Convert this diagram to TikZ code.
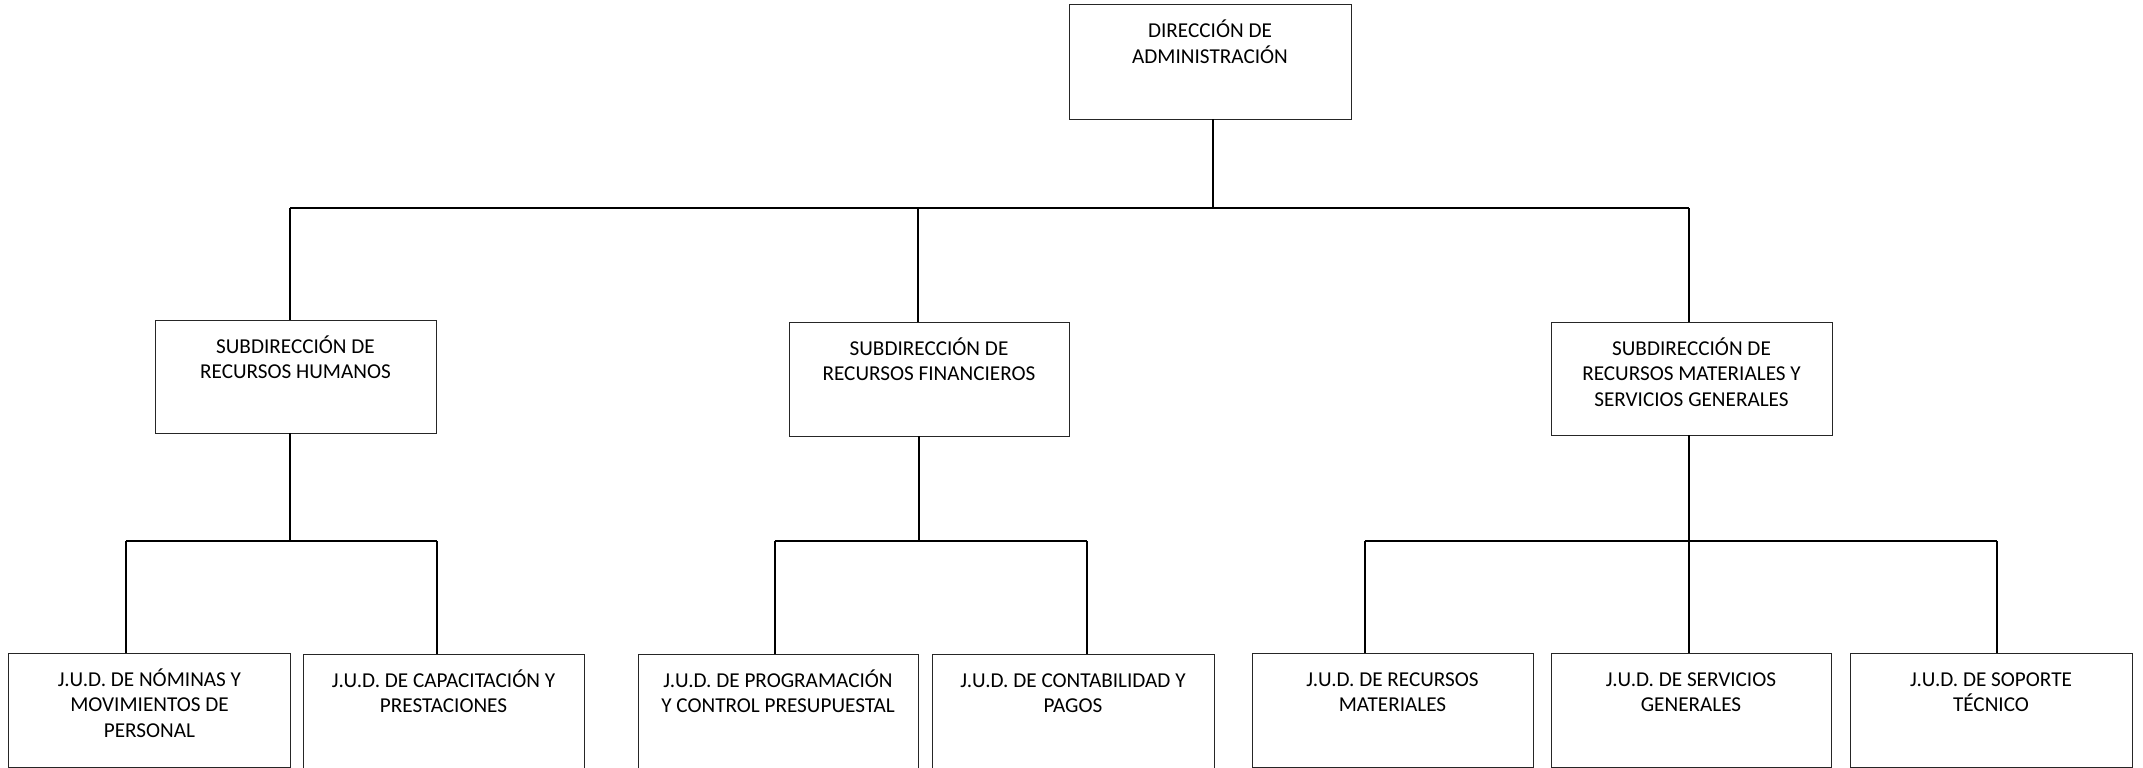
\documentclass[tikz,border=0pt]{standalone}
\usepackage{fontspec}
\setmainfont{Carlito}
\newcommand{\orgtext}[3]{\parbox[t][#2][t]{#1}{\centering\rule{0pt}{33bp}#3\par}}
\tikzset{
  orgbox/.style={draw=black!85, line width=1bp, inner sep=0pt, outer sep=0pt,
    font=\fontsize{21.2bp}{25.8bp}\selectfont},
  link/.style={line width=2bp, black}
}
\begin{document}
\begin{tikzpicture}[x=1bp,y=-1bp]
\useasboundingbox (0,0) rectangle (2143,768);
% top
\node[orgbox] (dir) at (1210,62) {\orgtext{282bp}{114bp}{DIRECCIÓN DE\\ADMINISTRACIÓN}};
% second level
\node[orgbox] (rh) at (295.5,376.5) {\orgtext{281bp}{113bp}{SUBDIRECCIÓN DE\\RECURSOS HUMANOS}};
\node[orgbox] (rf) at (929,379) {\orgtext{280bp}{114bp}{SUBDIRECCIÓN DE\\RECURSOS FINANCIEROS}};
\node[orgbox] (rm) at (1691.5,378.5) {\orgtext{281bp}{113bp}{SUBDIRECCIÓN DE\\RECURSOS MATERIALES Y\\SERVICIOS GENERALES}};
% third level
\node[orgbox] (j1) at (149.5,710) {\orgtext{281bp}{114bp}{J.U.D. DE NÓMINAS Y\\MOVIMIENTOS DE\\PERSONAL}};
\node[orgbox] (j2) at (443.5,711) {\orgtext{281bp}{114bp}{J.U.D. DE CAPACITACIÓN Y\\PRESTACIONES}};
\node[orgbox] (j3) at (778,711) {\orgtext{280bp}{114bp}{J.U.D. DE PROGRAMACIÓN\\Y CONTROL PRESUPUESTAL}};
\node[orgbox] (j4) at (1073,711) {\orgtext{282bp}{114bp}{J.U.D. DE CONTABILIDAD Y\\PAGOS}};
\node[orgbox] (j5) at (1392.5,710) {\orgtext{281bp}{114bp}{J.U.D. DE RECURSOS\\MATERIALES}};
\node[orgbox] (j6) at (1691,710) {\orgtext{280bp}{114bp}{J.U.D. DE SERVICIOS\\GENERALES}};
\node[orgbox] (j7) at (1991,710) {\orgtext{282bp}{114bp}{J.U.D. DE SOPORTE\\TÉCNICO}};
% bus coordinates
\coordinate (b0) at (1213,208);
\coordinate (bl) at (290,208);
\coordinate (bm) at (918,208);
\coordinate (br) at (1689,208);
\coordinate (h1) at (290,541);
\coordinate (h1l) at (126,541);
\coordinate (h1r) at (437,541);
\coordinate (h2) at (919,541);
\coordinate (h2l) at (775,541);
\coordinate (h2r) at (1087,541);
\coordinate (h3) at (1689,541);
\coordinate (h3l) at (1365,541);
\coordinate (h3r) at (1997,541);
% level 1 connectors
\draw[link] (dir.south -| b0) -- (b0);
\draw[link] (bl) -- (br);
\draw[link] (bl) -- (bl |- rh.north);
\draw[link] (bm) -- (bm |- rf.north);
\draw[link] (br) -- (br |- rm.north);
% RH
\draw[link] (h1 |- rh.south) -- (h1);
\draw[link] (h1l) -- (h1r);
\draw[link] (h1l) -- (h1l |- j1.north);
\draw[link] (h1r) -- (h1r |- j2.north);
% RF
\draw[link] (h2 |- rf.south) -- (h2);
\draw[link] (h2l) -- (h2r);
\draw[link] (h2l) -- (h2l |- j3.north);
\draw[link] (h2r) -- (h2r |- j4.north);
% RM
\draw[link] (h3 |- rm.south) -- (h3 |- j6.north);
\draw[link] (h3l) -- (h3r);
\draw[link] (h3l) -- (h3l |- j5.north);
\draw[link] (h3r) -- (h3r |- j7.north);
\end{tikzpicture}
\end{document}
